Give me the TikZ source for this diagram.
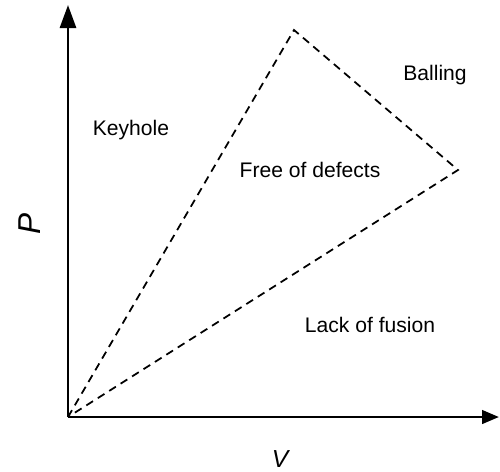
\documentclass[tikz,border=0pt]{standalone}
\usepackage{fontspec}
\setmainfont{Liberation Sans}
\usetikzlibrary{arrows.meta}
\tikzset{
  axis/.style={line width=1.6pt},
  bound/.style={line width=1pt,dash pattern=on 4.5pt off 3.2pt},
  region/.style={font=\fontsize{12}{14}\selectfont},
  varlabel/.style={font=\fontsize{#1}{18}\selectfont\itshape}
}

\begin{document}
\begin{tikzpicture}[x=0.02cm,y=-0.02cm]
  \useasboundingbox (0,0) rectangle (500,471);
  % axes
  \coordinate (O) at (68,417);
  \coordinate (ytip) at (68,5);
  \coordinate (xtip) at (499,417);
  \draw[axis,-{Triangle[length=0.46cm,width=0.32cm]}] (O) -- (ytip);
  \draw[axis,-{Triangle[length=0.34cm,width=0.27cm]}] (O) -- (xtip);
  \node[varlabel=18,rotate=90] (P) at (30,224) {P};
  \node[varlabel=14] (V) at (280,459) {V};
  % process window
  \coordinate (apex) at (294,30);
  \coordinate (corner) at (458,170);
  \draw[bound] (O) -- (apex) -- (corner) -- cycle;
  \node[region] (keyhole) at (131,130) {Keyhole};
  \node[region] (balling) at (435,75) {Balling};
  \node[region] (free) at (310,170) {Free of defects};
  \node[region] (lof) at (370,325) {Lack of fusion};
\end{tikzpicture}
\end{document}
